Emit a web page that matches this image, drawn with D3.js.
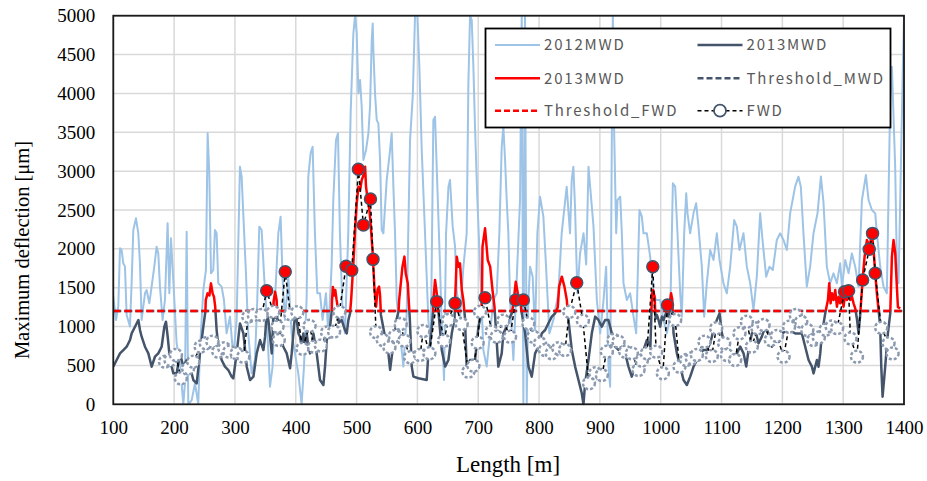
<!DOCTYPE html>
<html><head><meta charset="utf-8">
<script src="https://cdn.jsdelivr.net/npm/d3@7"></script>
<style>body{margin:0;background:#fff}svg{display:block}</style>
</head><body><svg id="c" width="927" height="481"></svg>
<script>
// ---- data: [length (m), max deflection (µm)] ----
const mwd2012 = [[100,1385],[104.4,1085],[108.2,1256],[111,2007],[113.7,1985],[116.4,1814],[119.2,1771],[121.9,1150],[127.4,1000],[130.1,1557],[132.9,2243],[137.3,2393],[141.1,2200],[143.8,1814],[146.6,1085],[149.3,1256],[152.1,1428],[154.8,1470],[159.2,1300],[163,1514],[167.4,1771],[171.2,2028],[174,1942],[176.7,1514],[181.1,1085],[184.9,1342],[189.3,2328],[192.1,1428],[194.8,2135],[198.6,1600],[204.1,785],[209.6,528],[215.1,0],[217.8,270],[220.6,2221],[223.3,0],[228.8,50],[234.3,270],[239.7,0],[242.5,700],[248,1470],[252.3,1728],[255.1,3486],[257.8,2972],[260.6,1685],[264.4,1728],[267.1,2243],[269.9,2200],[272.6,1557],[278.1,1514],[281.9,1342],[286.3,913],[291.8,1128],[297.3,613],[302.8,1085],[308.2,3057],[311,2929],[313.7,2457],[318.1,1685],[321.9,913],[327.4,400],[332.9,570],[336.7,1342],[340,2286],[343.9,2243],[347.7,1685],[352.1,1128],[357.6,227],[361.9,485],[365.8,1342],[371.3,2200],[375.1,2414],[378.4,1600],[382.2,1085],[387.7,1642],[393.2,913],[398.7,656],[404.1,400],[409.6,0],[413.5,485],[417.8,1342],[420.6,2929],[424.4,3229],[427.7,3314],[431.5,2200],[435.4,1428],[439.8,1428],[444.1,1085],[449.6,1428],[453.5,913],[458.9,1771],[461.7,2628],[466.1,3400],[469.4,3486],[472.6,2200],[477,1170],[480.9,913],[486.3,2200],[490.2,3743],[494.7,4773],[497.5,5000],[500.2,4773],[503,4000],[505.7,4172],[508.4,3829],[511.2,3143],[515.5,3272],[519.4,3486],[522.1,3829],[524.9,4687],[526.5,4900],[527.6,4558],[530.3,4000],[533.1,3657],[535.8,3615],[538.6,3143],[541.3,2243],[544,2200],[549.5,2886],[553.9,3186],[557.7,3486],[560.5,2800],[563.2,2200],[566,1342],[571.4,913],[576.9,485],[582.4,1170],[587.9,3400],[592.3,3958],[596.1,5000],[600,5000],[603.2,4344],[607.1,3272],[612.5,2200],[618,1085],[621.9,700],[626.2,3657],[629,3700],[631.7,3057],[637.2,1771],[640,1000],[643.8,313],[647.1,2200],[651,2800],[653.6,2886],[658,2286],[661.9,2028],[664.6,1470],[670.1,1128],[675.6,1771],[681,2200],[683.8,4130],[686.5,5000],[689.3,4944],[692,4344],[694.7,3572],[698.6,2628],[703,1771],[708.4,700],[713.9,485],[719.4,913],[724.9,1342],[730.4,1428],[734.7,2200],[738.6,3314],[741.3,3572],[744.1,3143],[746.8,2628],[749.5,2200],[752.3,1342],[757.8,570],[763.2,1600],[768.7,2628],[771.5,5000],[774.2,0],[776.9,5000],[779.7,0],[782.4,1342],[785.2,1771],[789.5,1642],[793.4,913],[797.2,2200],[801.6,2671],[807.1,2414],[811.5,1771],[816.9,913],[823.5,1085],[831.7,1428],[837.2,2200],[845.4,2800],[850.9,2200],[853.7,2886],[856.4,3057],[859.1,2543],[863,1428],[867.4,1942],[873.1,2200],[877.5,1800],[881.3,3057],[884,2800],[889.5,2286],[895,1342],[900.5,913],[906,1342],[910.3,1771],[914.2,485],[916.9,227],[919.7,3486],[921.3,5000],[923.5,3486],[926.8,2200],[929,2628],[933.4,2671],[936.1,2200],[938.8,1557],[944.3,1342],[949.8,1428],[955.3,1128],[959.7,913],[965.1,2500],[969,2414],[971.7,2200],[977.2,2200],[982.7,1900],[988.2,1428],[992.5,1342],[999.1,1342],[1004.6,1085],[1010.1,913],[1015.6,1128],[1020,2843],[1023.8,2800],[1027.6,2200],[1032,1428],[1034.7,1128],[1038.6,2200],[1041.9,2714],[1044.1,2457],[1048.4,2200],[1053.9,2457],[1058.3,2586],[1062.1,2286],[1067.6,1771],[1071.5,1128],[1075.8,1557],[1081.3,1985],[1086.8,1857],[1092.3,2200],[1096.7,1857],[1103.2,1557],[1108.7,1428],[1114.2,1771],[1120.8,2371],[1125.2,2286],[1129.5,1985],[1136.1,2200],[1141.6,1771],[1147.1,1557],[1152.6,1213],[1158,1642],[1163.5,2457],[1167.9,2071],[1173.4,1642],[1178.9,1771],[1184.3,1728],[1190.9,2114],[1196.4,2200],[1201.9,2114],[1207.4,1985],[1212.8,2457],[1221,2800],[1226.5,2929],[1230.4,2800],[1234.7,2200],[1240.2,1514],[1245.7,1771],[1251.2,2200],[1257.8,2457],[1263.4,2930],[1267.6,2600],[1273.1,1771],[1278.6,1557],[1284.1,1685],[1289.6,1557],[1295.1,1814],[1298,1513],[1303.4,1856],[1308.9,1685],[1314.3,1942],[1319.8,1770],[1325.3,1513],[1330.8,2628],[1337.4,2950],[1341.7,2628],[1347.2,2500],[1352.7,2457],[1355.4,2200],[1360.9,1770],[1366.4,1513],[1371.8,1428],[1377.3,3915],[1380.1,4344],[1385.5,3057],[1388.3,1771],[1391,1557],[1393.8,2628],[1398.1,4344],[1400,5000]];

const mwd2013 = [[100,484],[105.5,570],[111,655],[116.5,698],[122,741],[127.5,827],[130.2,913],[135.7,998],[141.2,1084],[143.9,955],[146.6,870],[152.1,741],[157.6,655],[163.1,484],[168.5,612],[174,655],[179.5,741],[183.9,998],[186.6,1063],[189.4,870],[193.2,570],[198.7,398],[204.2,398],[209.7,655],[215.1,484],[220.6,570],[226.1,484],[231.6,312],[237.1,269],[242.5,655],[248,998],[251.5,1200],[252,1341],[255,1427],[258,1400],[260.6,1556],[263.3,1427],[265.5,1385],[267.5,1256],[269.9,955],[272.7,741],[278.1,570],[283.6,484],[289.1,441],[294.6,355],[297.3,334],[302.8,655],[308.3,1040],[313.9,912],[319.4,484],[324.8,312],[330.3,355],[335.8,655],[341.3,827],[346.8,698],[349.5,870],[352.2,1170],[355,1084],[357.7,870],[360.5,655],[362.5,1000],[363.5,1320],[366,1448],[368.6,1340],[370,1000],[371.4,1084],[374.2,870],[379.6,741],[385.1,655],[390.6,463],[393.3,655],[396.1,912],[398.8,1170],[401.6,1084],[404.3,912],[407,870],[409.8,741],[412.5,912],[415.3,655],[418,912],[420.7,741],[423.5,655],[429,912],[434.4,655],[439.9,312],[445.4,248],[448.1,484],[450.9,826],[456.4,998],[459.1,1191],[459.5,1320],[461,1510],[463,1400],[465,1470],[467,1350],[469,1250],[470.5,1050],[475.5,1084],[481,955],[483.8,912],[486.5,1084],[489.2,1170],[491,1340],[494.7,1813],[497.5,2241],[500.2,2584],[503,2800],[505.7,2750],[508.4,2884],[512.3,2970],[514,3057],[515.5,2800],[518.3,2628],[521,2500],[523,2327],[526.5,1941],[529.2,1512],[532,1255],[534.5,1480],[537,1514],[538.6,1400],[540,1150],[546,900],[552.3,656],[555.1,442],[557.8,613],[563.3,950],[566,1100],[569,1200],[570,1342],[575.4,1771],[578.6,1900],[580.8,1685],[584.1,1557],[586,1300],[587.5,1100],[590.7,485],[593.4,356],[601.6,335],[615.3,313],[618,656],[620.8,785],[623.6,1000],[626,1200],[626.3,1342],[629,1600],[631.8,1428],[634.5,1200],[640,700],[645.5,485],[651,570],[656.5,913],[661,1100],[662,1342],[664.7,1900],[667.4,1771],[670,1814],[673,1471],[675.5,1342],[678,1128],[681,485],[686.6,570],[694.8,570],[700.3,999],[703,1085],[705,1200],[706,1342],[707,2028],[711.2,2264],[715.6,1857],[719.6,1771],[723.4,1471],[726.7,1257],[728,1100],[733,485],[738.6,656],[741.3,913],[746.8,1000],[749.7,1085],[755.2,1170],[757.9,1300],[761.7,1578],[765,1428],[768.9,1342],[771.6,1170],[777.1,913],[782.6,485],[788,356],[793.5,656],[799,742],[804.5,913],[810,956],[815.4,1042],[820.9,1128],[826.4,1170],[830.8,1250],[833,1514],[837.4,1642],[841.7,1514],[845.6,1342],[848.3,1085],[853.8,700],[859.3,485],[864.8,313],[870.2,142],[873,0],[875.7,270],[881.2,570],[886.7,913],[892.2,1128],[897.6,1085],[903.1,999],[908.6,1085],[914.1,1085],[919.6,913],[925,742],[930.5,699],[936,742],[941.5,656],[947,485],[952.4,356],[957.9,485],[963.4,570],[966.3,570],[971.8,699],[977.3,828],[983,742],[984.5,1100],[985.5,1420],[987.5,1470],[990,1380],[991.5,1100],[993.7,1150],[996.4,1085],[999.2,999],[1001.9,1128],[1004.7,1085],[1009,1180],[1012.9,1128],[1015,1300],[1017,1428],[1019,1350],[1021.1,913],[1026.6,656],[1032.1,485],[1037.5,313],[1043,249],[1048.5,356],[1054,485],[1059.5,570],[1064.9,656],[1070.4,699],[1075.9,699],[1081.4,785],[1086.9,956],[1092.3,1085],[1096.7,1170],[1100.6,913],[1106,742],[1111.5,656],[1117,570],[1125.2,656],[1130.7,742],[1136.2,656],[1140.6,485],[1144.4,699],[1149.9,913],[1155.4,956],[1160.8,785],[1166.3,870],[1171.8,999],[1177.3,913],[1182.8,742],[1188.2,828],[1199.3,912],[1210.2,956],[1221.2,912],[1232.1,912],[1237.6,741],[1243.1,570],[1248.6,484],[1251.3,398],[1256.8,570],[1259.5,484],[1262.3,655],[1265,912],[1267.8,1041],[1270.5,1170],[1274.9,1342],[1277.1,1556],[1279.3,1299],[1281.5,1428],[1284.2,1342],[1287,1470],[1289.7,1256],[1292.4,1385],[1295.2,1299],[1297.9,1428],[1300.6,1256],[1303.4,1428],[1306.1,1342],[1308.9,1470],[1311.6,1342],[1314.3,1385],[1317.1,1299],[1319.8,1234],[1322.6,1100],[1325.3,913],[1328,1150],[1331.9,1599],[1335.2,1899],[1339,2113],[1343.4,2028],[1347.2,2199],[1350,1985],[1352.7,1685],[1355.4,1428],[1358.2,1213],[1360.9,997],[1362.6,491],[1364.8,98],[1369.1,484],[1373.5,912],[1377.4,1170],[1380.1,1900],[1382.8,2113],[1385.6,1942],[1388.3,1512],[1390,1250],[1393.8,1234]];

const fwd = [[185,549],[194,570],[203,635],[211,334],[223,463],[231.5,549],[243.6,742],[252,785],[263,806],[272.6,677],[282.5,720],[290.7,677],[302.8,656],[313.7,613],[322,1128],[331,1149],[343.9,1150],[352.2,1460],[363,1190],[370,999],[372,827],[382.7,1706],[391,1160],[402.6,1185],[411,715],[422.7,1010],[430,742],[441.3,757],[451.5,924],[463,935],[471.6,1190],[482.7,1775],[492,1725],[503,3025],[511.2,2307],[522.8,2641],[527,1865],[532,928],[543,828],[554,733],[563,879],[572.5,1033],[578.6,819],[588,605],[604.3,635],[609.8,943],[619.7,656],[631.7,1321],[643.8,819],[650.9,1085],[661.9,1300],[672.8,1033],[683.8,420],[692,497],[699,793],[703,1190],[711.2,1372],[722.1,935],[730.4,870],[741.3,1076],[752.3,870],[761.6,1342],[774.2,1342],[782.4,1042],[790.6,870],[801.6,785],[809.8,699],[820.8,656],[831.7,720],[842.7,699],[849.8,1190],[861.9,1565],[872,1076],[882,270],[892.3,399],[903.2,377],[911.4,677],[922.4,828],[930.6,806],[941.6,677],[952.5,656],[963.5,442],[969,562],[977.2,656],[987,1771],[992.5,677],[1003.5,399],[1011.2,1278],[1023.8,1085],[1030.9,485],[1041.9,570],[1051.2,592],[1059.4,635],[1072,806],[1084,622],[1091.2,978],[1104.3,785],[1108.7,635],[1122.4,570],[1129.5,913],[1141.6,1063],[1149.8,742],[1159.1,978],[1169,1020],[1181,828],[1191,880],[1202,613],[1211,999],[1222,1149],[1231,1063],[1241,956],[1251,828],[1260,860],[1271,960],[1281,1000],[1290,980],[1302.3,1449],[1308.9,1462],[1312,848],[1322.6,613],[1332,1599],[1342.8,1994],[1348.3,2199],[1352.7,1685],[1362.6,985],[1374.6,784],[1381.2,655]];

const thresholdMWD = 1200;
const thresholdFWD = 1200;
const xTicks = [100,200,300,400,500,600,700,800,900,1000,1100,1200,1300,1400];
const yTicks = [0,500,1000,1500,2000,2500,3000,3500,4000,4500,5000];
const legendNames = ["2012MWD","2013MWD","2013MWD","Threshold_MWD","Threshold_FWD","FWD"];

// ---- chart ----
const svg = d3.select("#c");
const L = 113.3, R = 904, T = 15.7, B = 404.3;
const x = d3.scaleLinear().domain([100,1400]).range([L,R]);
const y = d3.scaleLinear().domain([0,5000]).range([B,T]);

svg.append("g").selectAll("line").data(xTicks).join("line")
  .attr("x1",d=>x(d)).attr("x2",d=>x(d)).attr("y1",T).attr("y2",B)
  .attr("stroke","#d9d9d9").attr("stroke-width",1.5);
svg.append("g").selectAll("line").data(yTicks).join("line")
  .attr("x1",L).attr("x2",R).attr("y1",d=>y(d)).attr("y2",d=>y(d))
  .attr("stroke","#d9d9d9").attr("stroke-width",1.5);

const defs = svg.append("defs");
defs.append("clipPath").attr("id","plot").append("rect").attr("x",L).attr("y",T-1).attr("width",R-L).attr("height",B-T+2);
const yT = y(thresholdMWD);
defs.append("clipPath").attr("id","below").append("rect").attr("x",L).attr("y",yT).attr("width",R-L).attr("height",B-yT+2);
defs.append("clipPath").attr("id","above").append("rect").attr("x",L).attr("y",T-1).attr("width",R-L).attr("height",yT-T+1);

const line = d3.line().x(d=>x(d[0])).y(d=>y(d[1]));
const gp = svg.append("g").attr("clip-path","url(#plot)");
gp.append("path").attr("d",line(mwd2012)).attr("fill","none").attr("stroke","#9dc3e6").attr("stroke-width",2).attr("stroke-linejoin","round");
gp.append("path").attr("d",line(mwd2013)).attr("fill","none").attr("stroke","#44546a").attr("stroke-width",2.5).attr("stroke-linejoin","round").attr("clip-path","url(#below)");
gp.append("path").attr("d",line(mwd2013)).attr("fill","none").attr("stroke","#ff0000").attr("stroke-width",2.5).attr("stroke-linejoin","round").attr("clip-path","url(#above)");
gp.append("line").attr("x1",L).attr("x2",R).attr("y1",y(thresholdMWD)).attr("y2",y(thresholdMWD))
  .attr("stroke","#44546a").attr("stroke-width",2.5).attr("stroke-dasharray","8,3");
gp.append("line").attr("x1",L).attr("x2",R).attr("y1",y(thresholdFWD)).attr("y2",y(thresholdFWD))
  .attr("stroke","#ff0000").attr("stroke-width",2.5).attr("stroke-dasharray","7,4");
gp.append("path").attr("d",line(fwd)).attr("fill","none").attr("stroke","#000").attr("stroke-width",1.5).attr("stroke-dasharray","4,3");
gp.append("g").selectAll("circle").data(fwd).join("circle")
  .attr("cx",d=>x(d[0])).attr("cy",d=>y(d[1])).attr("r",6)
  .attr("fill",d=>d[1]>thresholdFWD?"#ff0000":"#fff")
  .attr("stroke",d=>d[1]>thresholdFWD?"#44546a":"#8d9bb0")
  .attr("stroke-width",d=>d[1]>thresholdFWD?1.5:2.5)
  .attr("stroke-dasharray",d=>d[1]>thresholdFWD?null:"3,2");

svg.append("rect").attr("x",L).attr("y",T).attr("width",R-L).attr("height",B-T)
  .attr("fill","none").attr("stroke","#1a1a1a").attr("stroke-width",1.8);

const ax = svg.append("g").attr("transform",`translate(0,${B})`)
  .call(d3.axisBottom(x).tickValues(xTicks).tickSize(0).tickPadding(16).tickFormat(d3.format("d")));
const ay = svg.append("g").attr("transform",`translate(${L},0)`)
  .call(d3.axisLeft(y).tickValues(yTicks).tickSize(0).tickPadding(18).tickFormat(d3.format("d")));
[ax,ay].forEach(g=>{g.select(".domain").remove();
  g.selectAll("text").attr("font-family","'Liberation Serif','Times New Roman',serif").attr("font-size",19).attr("fill","#000");});

svg.append("text").attr("x",508).attr("y",472).attr("text-anchor","middle")
  .attr("font-family","'Liberation Serif',serif").attr("font-size",23).text("Length [m]");
svg.append("text").attr("transform","translate(29,250) rotate(-90)").attr("text-anchor","middle")
  .attr("font-family","'Liberation Serif',serif").attr("font-size",20.5).text("Maximum deflection [μm]");

const lg = svg.append("g");
lg.append("rect").attr("x",485.5).attr("y",28.5).attr("width",405).attr("height",99)
  .attr("fill","#fff").attr("stroke","#000").attr("stroke-width",1.8);
const items = [
  {c:0,r:0,stroke:"#9dc3e6",w:2,dash:null},
  {c:1,r:0,stroke:"#44546a",w:2.5,dash:null},
  {c:0,r:1,stroke:"#ff0000",w:2.5,dash:null},
  {c:1,r:1,stroke:"#44546a",w:2.5,dash:"6,3"},
  {c:0,r:2,stroke:"#ff0000",w:2.5,dash:"6,3"},
  {c:1,r:2,stroke:"#000",w:1.5,dash:"4,3",marker:true}
];
const colX = [495,697.5], rowY = [45,78.3,110.7];
items.forEach((it,i)=>{
  const x0 = colX[it.c], yy = rowY[it.r];
  lg.append("line").attr("x1",x0).attr("x2",x0+45).attr("y1",yy).attr("y2",yy)
    .attr("stroke",it.stroke).attr("stroke-width",it.w).attr("stroke-dasharray",it.dash);
  if(it.marker) lg.append("circle").attr("cx",x0+22.5).attr("cy",yy).attr("r",6)
    .attr("fill","#fff").attr("stroke","#44546a").attr("stroke-width",1.8);
  lg.append("text").attr("x",x0+49).attr("y",yy).attr("dy","0.36em")
    .attr("font-family","'Noto Sans CJK JP','Noto Sans',sans-serif").attr("font-size",15)
    .attr("letter-spacing",1.8).attr("fill","#595959").text(legendNames[i]);
});
</script></body></html>
